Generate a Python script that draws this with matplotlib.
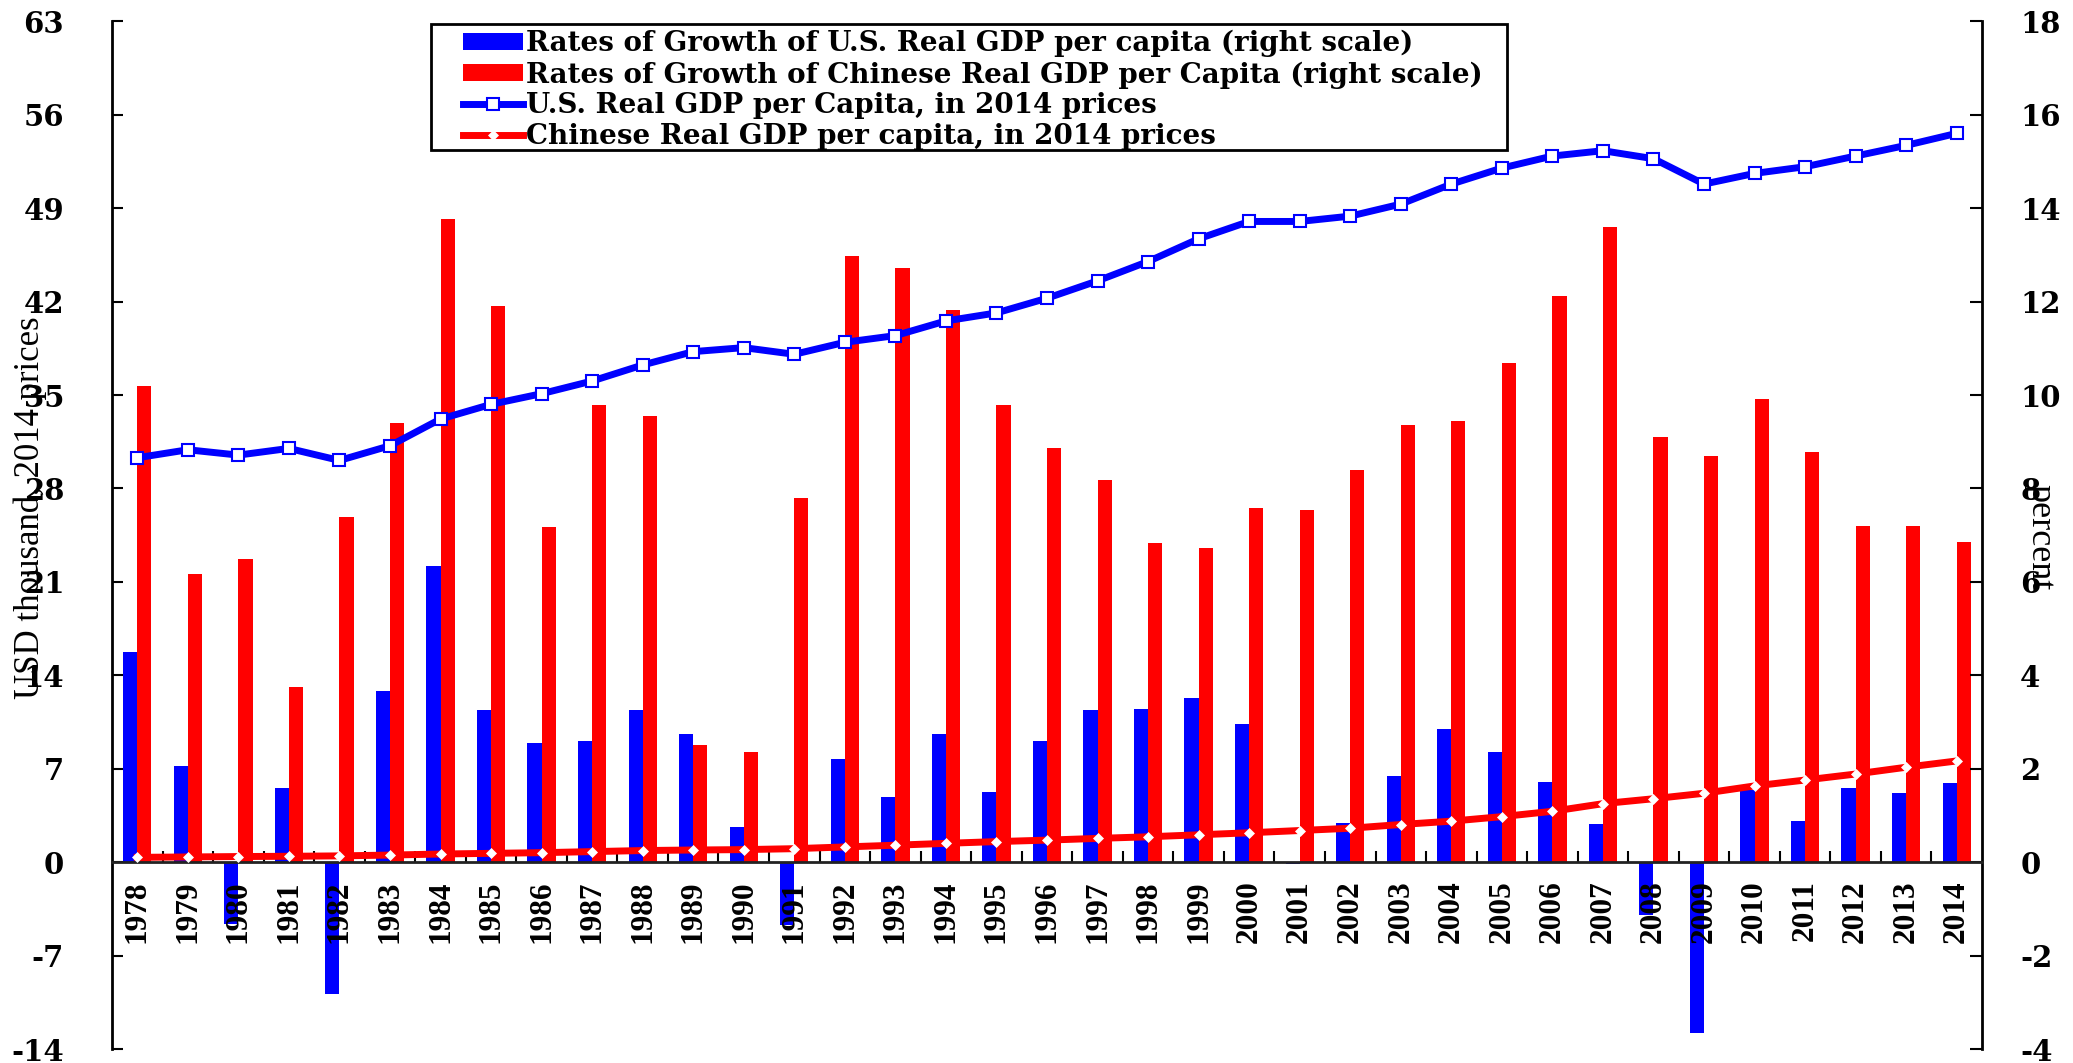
import matplotlib
matplotlib.use("Agg")
import matplotlib.pyplot as plt
import numpy as np
from matplotlib.patches import Patch, Rectangle
from matplotlib.lines import Line2D
from matplotlib.font_manager import FontProperties

# ---------------- data ----------------
years = [str(y) for y in range(1978, 2015)]

us_growth = [4.49, 2.06, -1.31, 1.58, -2.82, 3.66, 6.35, 3.25, 2.55, 2.59,
             3.26, 2.75, 0.76, -1.34, 2.21, 1.39, 2.75, 1.50, 2.59, 3.26,
             3.29, 3.52, 2.95, -0.03, 0.84, 1.84, 2.85, 2.36, 1.72, 0.83,
             -1.13, -3.65, 1.55, 0.88, 1.58, 1.48, 1.70]

cn_growth = [10.19, 6.17, 6.50, 3.75, 7.40, 9.41, 13.76, 11.91, 7.18, 9.78,
             9.55, 2.50, 2.35, 7.79, 12.97, 12.71, 11.83, 9.78, 8.87, 8.19,
             6.84, 6.72, 7.59, 7.54, 8.39, 9.35, 9.44, 10.69, 12.11, 13.59,
             9.10, 8.70, 9.92, 8.79, 7.19, 7.19, 6.85]

us_level = [30.3, 30.9, 30.5, 31.0, 30.1, 31.2, 33.2, 34.3, 35.1, 36.05,
            37.25, 38.25, 38.55, 38.05, 38.95, 39.45, 40.55, 41.15, 42.25, 43.55,
            45.0, 46.7, 48.0, 48.0, 48.4, 49.3, 50.8, 52.0, 52.9, 53.3,
            52.7, 50.8, 51.6, 52.1, 52.9, 53.7, 54.6]

cn_level = [0.37, 0.40, 0.43, 0.45, 0.48, 0.54, 0.62, 0.67, 0.72, 0.80,
            0.88, 0.92, 0.95, 1.02, 1.15, 1.28, 1.42, 1.55, 1.66, 1.79,
            1.91, 2.06, 2.21, 2.38, 2.55, 2.83, 3.08, 3.42, 3.82, 4.39,
            4.76, 5.17, 5.72, 6.16, 6.61, 7.12, 7.59]

left_ticks = list(range(-14, 64, 7))
right_ticks = list(range(-4, 19, 2))

labels = ["Rates of Growth of U.S. Real GDP per capita (right scale)",
          "Rates of Growth of Chinese Real GDP per Capita (right scale)",
          "U.S. Real GDP per Capita, in 2014 prices",
          "Chinese Real GDP per capita, in 2014 prices"]

# ---------------- figure ----------------
W, H = 2073, 1063
fig = plt.figure(figsize=(W / 100, H / 100), dpi=100)
fig.patch.set_facecolor("white")

ax1 = fig.add_axes([112 / W, 1 - 1049.2 / H, (1982 - 112) / W, (1049.2 - 21.2) / H])
ax2 = ax1.twinx()

x = np.arange(len(years))
bw = 0.28
BLUE = "#0000FF"
RED = "#FF0000"

ax2.bar(x - bw / 2, us_growth, width=bw, color=BLUE, linewidth=0)
ax2.bar(x + bw / 2, cn_growth, width=bw, color=RED, linewidth=0)

ax1.plot(x, us_level, color=BLUE, lw=5, marker="s", ms=8.5, mfc="white",
         mec=BLUE, mew=1.5, zorder=3)
ax1.plot(x, cn_level, color=RED, lw=5, marker="D", ms=5.5, mfc="white",
         mec="white", mew=0.5, zorder=3)

ax1.set_zorder(ax2.get_zorder() + 1)
ax1.patch.set_visible(False)

ax1.set_xlim(-0.5, len(years) - 0.5)
ax1.set_ylim(-14, 63)
ax2.set_ylim(-4, 18)

tick_font = FontProperties(family="DejaVu Serif", weight="bold", size=21)
year_font = FontProperties(family="Liberation Serif", weight="bold", size=22.5)

# spines
for s in ["top", "right"]:
    ax1.spines[s].set_visible(False)
ax1.spines["left"].set_linewidth(2)
ax1.spines["bottom"].set_position(("data", 0))
ax1.spines["bottom"].set_linewidth(2)
ax1.spines["bottom"].set_color("#222222")
for s in ["top", "left", "bottom"]:
    ax2.spines[s].set_visible(False)
ax2.spines["right"].set_linewidth(2)

# y ticks
ax1.set_yticks(left_ticks)
ax1.set_yticklabels([str(t) for t in left_ticks], fontproperties=tick_font)
ax1.tick_params(axis="y", direction="in", length=8, width=1.5, pad=34.5)
ax2.set_yticks(right_ticks)
ax2.set_yticklabels([str(t) for t in right_ticks], fontproperties=tick_font)
ax2.tick_params(axis="y", direction="in", length=9, width=1.5, pad=27.5)

# x ticks: boundaries (major, unlabeled) and centres (minor, labeled)
ax1.set_xticks(np.arange(0.5, len(years) - 1, 1.0))
ax1.set_xticklabels([])
ax1.tick_params(axis="x", which="major", direction="in", length=7.7, width=1.5)
ax1.set_xticks(x, minor=True)
ax1.set_xticklabels(years, minor=True, rotation=90, fontproperties=year_font)
ax1.tick_params(axis="x", which="minor", length=0, pad=13)

# axis titles
fig.text(30 / W, 1 - 508 / H, "USD thousand, 2014 prices", rotation=90,
         ha="center", va="center", family="Liberation Serif", size=25)
fig.text(2040 / W, 1 - 537 / H, "percent", rotation=270,
         ha="center", va="center", family="Liberation Serif", size=26)

# legend box
fig.add_artist(Rectangle((431 / W, 1 - 150 / H), (1507 - 431) / W, 126 / H,
                         transform=fig.transFigure, facecolor="white",
                         edgecolor="black", lw=2, zorder=10))
handles = [Patch(facecolor=BLUE, edgecolor="none"),
           Patch(facecolor=RED, edgecolor="none"),
           Line2D([], [], color=BLUE, lw=5, marker="s", ms=8.5, mfc="white",
                  mec=BLUE, mew=1.5),
           Line2D([], [], color=RED, lw=5, marker="D", ms=5.5, mfc="white",
                  mec="white", mew=0.5)]
leg_font = FontProperties(family="DejaVu Serif", weight="bold", size=20)
leg = fig.legend(handles, labels, loc="upper left",
                 bbox_to_anchor=(463 / W, 1 - 30 / H), frameon=False,
                 borderpad=0, borderaxespad=0, handlelength=2.15,
                 handleheight=0.58, handletextpad=0.12, labelspacing=0.14,
                 prop=leg_font)
leg.set_zorder(11)

fig.savefig("out.png", dpi=100, facecolor="white")
